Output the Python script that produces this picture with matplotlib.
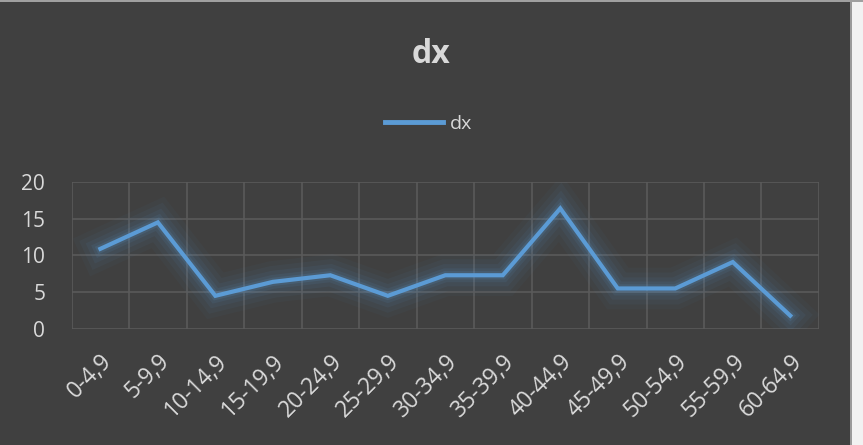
import matplotlib.pyplot as plt
import matplotlib.patheffects as pe
from matplotlib.patches import Rectangle
import numpy as np

# Данные
categories = ['0-4,9', '5-9,9', '10-14,9', '15-19,9', '20-24,9', '25-29,9',
              '30-34,9', '35-39,9', '40-44,9', '45-49,9', '50-54,9', '55-59,9',
              '60-64,9']
dx = [10.9, 14.5, 4.5, 6.4, 7.3, 4.5, 7.3, 7.3, 16.4, 5.5, 5.5, 9.1, 1.8]
y_ticks = [0, 5, 10, 15, 20]

bg = '#404040'
grid_col = '#5a5a5a'
text_col = '#d9d9d9'
line_col = '#5b9bd5'

plt.rcParams['font.family'] = ['Open Sans', 'DejaVu Sans']

fig = plt.figure(figsize=(8.63, 4.45), dpi=100, facecolor=bg)
ax = fig.add_axes([0.083, 0.261, 0.866, 0.330], facecolor=bg)

x = np.arange(len(categories))
# мягкое свечение вокруг линии
glow = [pe.Stroke(linewidth=w, foreground=line_col, alpha=a)
        for w, a in [(30, 0.035), (23, 0.05), (16, 0.065), (10, 0.09), (6, 0.14)]]
glow.append(pe.Normal())
ax.plot(x, dx, color=line_col, linewidth=3, label='dx',
        solid_joinstyle='miter', path_effects=glow)

ax.set_xlim(-0.5, len(categories) - 0.5)
ax.set_ylim(0, 20)
ax.set_yticks(y_ticks)
ax.set_xticks(np.arange(-0.5, len(categories)))
ax.set_xticklabels([])
ax.set_xticks(x, minor=True)
ax.set_xticklabels(categories, minor=True, rotation=45, ha='right', va='top',
                   rotation_mode='anchor', fontsize=16.5, color=text_col)
ax.tick_params(axis='x', which='both', length=0, pad=15)
ax.tick_params(axis='y', length=0, pad=19, labelsize=15, labelcolor=text_col)
ax.grid(True, which='major', color=grid_col, linewidth=1.2)
for s in ax.spines.values():
    s.set_visible(False)

fig.text(0.499, 0.878, 'dx', ha='center', va='center', fontsize=23,
         fontweight='bold', color=text_col)
leg = fig.legend(loc='center', bbox_to_anchor=(0.497, 0.722), frameon=False,
                 fontsize=14, handlelength=3.0, handletextpad=0.35)
for t in leg.get_texts():
    t.set_color(text_col)
for h in leg.legend_handles:
    h.set_path_effects([])
    h.set_linewidth(3.5)

# светлая рамка справа и сверху, как на скриншоте
fig.patches.append(Rectangle((852 / 863, 0), 11 / 863, 1, transform=fig.transFigure,
                             facecolor='#f2f2f2', edgecolor='none'))
fig.patches.append(Rectangle((850 / 863, 0), 2 / 863, 1, transform=fig.transFigure,
                             facecolor='#9a9a9a', edgecolor='none'))
fig.patches.append(Rectangle((0, 1 - 2 / 445), 1, 2 / 445, transform=fig.transFigure,
                             facecolor='#a0a0a0', edgecolor='none'))

fig.savefig('out.png', dpi=100, facecolor=bg)
